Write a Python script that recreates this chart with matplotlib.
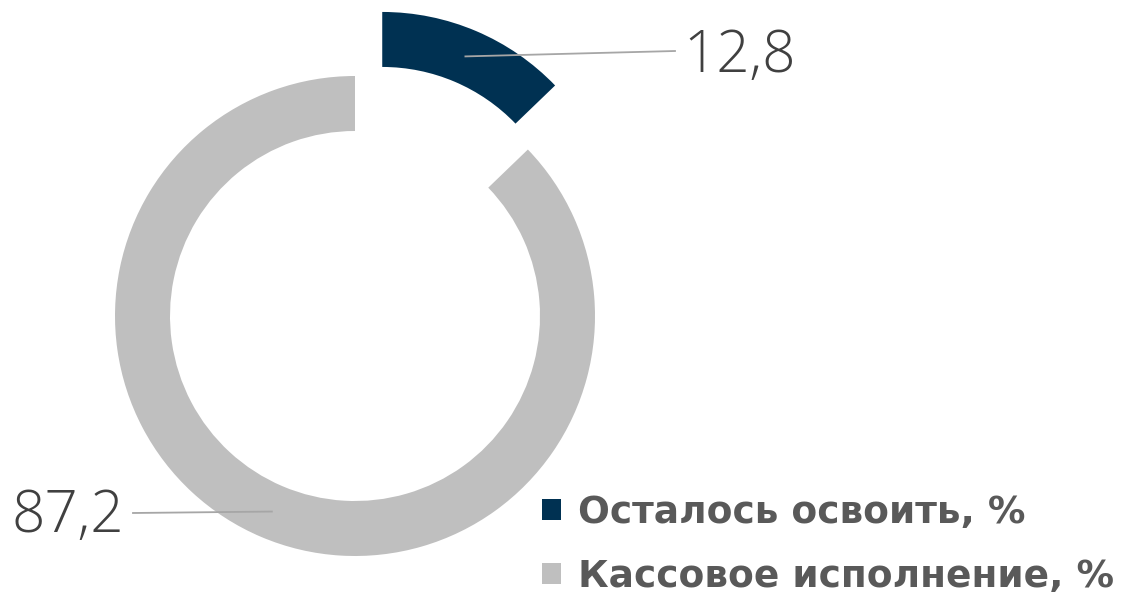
import numpy as np
from matplotlib import pyplot as plt

labels = ['Осталось освоить, %', 'Кассовое исполнение, %']
values = [12.8, 87.2]
value_texts = ['12,8', '87,2']
colors = ['#003152', '#BFBFBF']
explode_frac = [0.29, 0.0]

W, H = 1122, 595
fig = plt.figure(figsize=(W / 100, H / 100), dpi=100)
ax = fig.add_axes([0, 0, 1, 1])

R = 240
ring = 55
wedges, _ = ax.pie(values, colors=colors, explode=[e * R for e in explode_frac],
                   startangle=90, counterclock=False, radius=R,
                   center=(355, H - 316),
                   wedgeprops=dict(width=ring, linewidth=0), frame=True)
ax.set_xlim(0, W)
ax.set_ylim(0, H)
ax.set_aspect('equal')
ax.axis('off')

# leader lines from the middle of each ring segment
text_pos = [((683, H - 57), 'left'), ((124, H - 517), 'right')]
for w, txt, (pos, ha) in zip(wedges, value_texts, text_pos):
    mid = np.deg2rad((w.theta1 + w.theta2) / 2)
    r = w.r - w.width / 2
    cx, cy = w.center
    anchor = (cx + r * np.cos(mid), cy + r * np.sin(mid))
    line_end = (pos[0] - 8, pos[1] + 6) if ha == 'left' else (pos[0] + 9, pos[1] + 4)
    ax.plot([anchor[0], line_end[0]], [anchor[1], line_end[1]],
            color='#A6A6A6', lw=1.3, zorder=3)
    ax.text(pos[0], pos[1], txt, ha=ha, va='center', fontsize=42,
            family='Open Sans', fontweight='light', color='#404040')

leg = ax.legend(wedges, labels, loc='lower right', bbox_to_anchor=(1.008, -0.028),
                frameon=False, handlelength=0.5, handleheight=0.5,
                handletextpad=0.45, labelspacing=0.75, borderaxespad=0.05,
                prop=dict(family='DejaVu Sans', weight='bold', size=27))
for t in leg.get_texts():
    t.set_color('#595959')

fig.savefig('out.png', dpi=100)
